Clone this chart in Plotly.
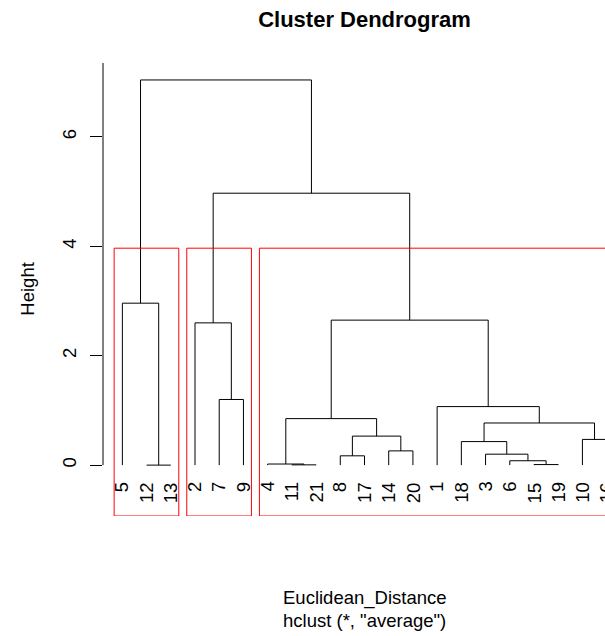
import plotly.graph_objects as go

# ---- data ----
leaf_labels = ["5", "12", "13", "2", "7", "9", "4", "11", "21", "8", "17",
               "14", "20", "1", "18", "3", "6", "15", "19", "10", "16"]
# merge steps: negative = leaf position in plot order (1-based), positive = earlier merge step
merge_left = [-2, -8, -18, -7, -17, -10, -16, -12, -15, -20, 6, 9, 4, -14, -5, -4, 13, -1, 16, 18]
merge_right = [-3, -9, -19, 2, 3, -11, 5, -13, 7, -21, 8, 10, 11, 12, -6, 15, 14, 1, 17, 19]
merge_height = [0.00, 0.005, 0.01, 0.02, 0.08, 0.17, 0.20, 0.26, 0.43, 0.47, 0.53,
                0.77, 0.85, 1.07, 1.20, 2.60, 2.65, 2.96, 4.97, 7.04]
k_clusters = 3
y_ticks = [0, 2, 4, 6]

FONT = "Liberation Sans, Arial, Helvetica, sans-serif"
n = len(leaf_labels)
leaf_pos = list(range(1, n + 1))

# ---- dendrogram geometry ----
merge_x = []


def nx(i):
    return leaf_pos[-i - 1] if i < 0 else merge_x[i - 1]


def nh(i):
    return 0.0 if i < 0 else merge_height[i - 1]


seg_x, seg_y = [], []
for l, r, h in zip(merge_left, merge_right, merge_height):
    xl, xr = nx(l), nx(r)
    seg_x += [xl, xl, xr, xr, None]
    seg_y += [nh(l), h, h, nh(r), None]
    merge_x.append((xl + xr) / 2)


def leaves_of(i):
    if i < 0:
        return [leaf_pos[-i - 1]]
    return leaves_of(merge_left[i - 1]) + leaves_of(merge_right[i - 1])


# clusters: cut the top k-1 merges
top = len(merge_height)
cut_nodes = [top]
clusters = []
while cut_nodes:
    node = max(cut_nodes)
    cut_nodes.remove(node)
    for ch in (merge_left[node - 1], merge_right[node - 1]):
        if ch > 0 and ch > top - (k_clusters - 1):
            cut_nodes.append(ch)
        else:
            clusters.append(leaves_of(ch))
clusters.sort(key=min)
rect_top = (merge_height[top - k_clusters + 1] + merge_height[top - k_clusters]) / 2
y_low, y_high = -0.93, 7.35

rx, ry = [], []
for c in clusters:
    x0, x1 = min(c) - 0.34, max(c) + 0.33
    rx += [x0, x1, x1, x0, x0, None]
    ry += [y_low, y_low, rect_top, rect_top, y_low, None]

fig = go.Figure()
fig.add_trace(go.Scatter(x=seg_x, y=seg_y, mode="lines",
                         line=dict(color="black", width=1),
                         cliponaxis=False, hoverinfo="skip", showlegend=False))
fig.add_trace(go.Scatter(x=rx, y=ry, mode="lines",
                         line=dict(color="#FF0000", width=1),
                         cliponaxis=False, hoverinfo="skip", showlegend=False))

# y axis line from 0 to top
fig.add_shape(type="line", xref="paper", x0=0, x1=0, yref="y", y0=0, y1=y_high,
              line=dict(color="black", width=1))

for xp, lab in zip(leaf_pos, leaf_labels):
    fig.add_annotation(x=xp, y=-0.27, xref="x", yref="y", text=lab,
                       textangle=-90, showarrow=False, xanchor="center", yanchor="top",
                       font=dict(family=FONT, size=18.5, color="black"))

fig.add_annotation(x=0.5, y=-0.1817, xref="paper", yref="paper", text="Euclidean_Distance",
                   showarrow=False, xanchor="center", yanchor="middle",
                   font=dict(family=FONT, size=18.5, color="black"))
fig.add_annotation(x=0.5, y=-0.2311, xref="paper", yref="paper", text='hclust (*, "average")',
                   showarrow=False, xanchor="center", yanchor="middle",
                   font=dict(family=FONT, size=18.5, color="black"))
fig.add_annotation(x=-0.145, y=0.5, xref="paper", yref="paper", text="Height",
                   textangle=-90, showarrow=False, xanchor="center", yanchor="middle",
                   font=dict(family=FONT, size=18.5, color="black"))

fig.update_layout(
    width=640, height=636,
    margin=dict(l=103, r=14, t=63, b=120),
    paper_bgcolor="white", plot_bgcolor="white",
    title=dict(text="Cluster Dendrogram", x=0.5, xref="paper", xanchor="center",
               y=0.9695, yref="container", yanchor="middle",
               font=dict(family=FONT, size=22, color="black", weight="bold")),
    xaxis=dict(range=[0.2, n + 0.8], visible=False, fixedrange=True),
    yaxis=dict(range=[y_low, y_high], tickvals=y_ticks, ticks="outside", ticklen=12,
               tickcolor="black", tickwidth=1, showline=False, showgrid=False,
               zeroline=False, tickangle=-90, fixedrange=True, ticklabelstandoff=7,
               tickfont=dict(family=FONT, size=18.5, color="black")),
    showlegend=False,
)

fig.write_html("out.html",
               post_script="document.documentElement.style.overflow='hidden';"
                           "document.body.style.overflow='hidden';")
